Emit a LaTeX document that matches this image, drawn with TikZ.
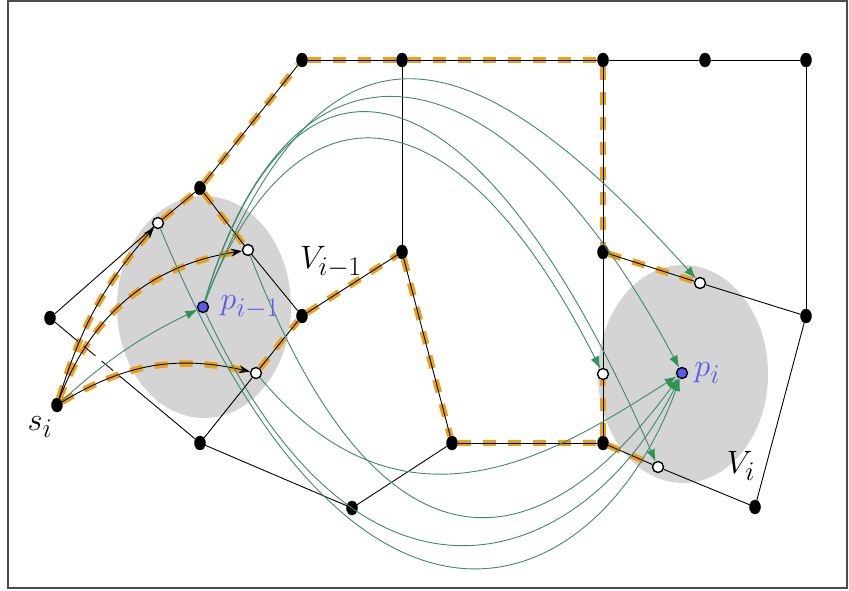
\documentclass[tikz,border=0pt]{standalone}
\usepackage{xcolor}
\usetikzlibrary{arrows.meta,positioning,shapes.geometric}
\definecolor{pathorange}{HTML}{E9A11A}
\definecolor{arcgreen}{HTML}{3F8A6A}
\definecolor{tipgreen}{HTML}{2E9455}
\definecolor{ptblue}{HTML}{5A5AF0}
\definecolor{regiongray}{HTML}{D4D4D4}
\newcommand{\biglab}[1]{\scalebox{1.3}{\Huge$#1$}}

\begin{document}
\begin{tikzpicture}[x=1pt,y=-1pt,
    vtx/.style={draw=black, fill=black, ellipse, inner sep=0pt, minimum width=11pt, minimum height=14pt},
    hole/.style={draw=black, fill=white, circle, line width=1.4pt, inner sep=0pt, minimum size=11pt},
    rep/.style={draw=black, fill=ptblue, circle, line width=1.4pt, inner sep=0pt, minimum size=11pt},
    link/.style={black, line width=0.9pt},
    route/.style={pathorange, line width=6.5pt, dash pattern=on 13pt off 12pt},
    flow/.style={arcgreen, line width=0.9pt, -{Latex[length=12pt,width=9pt,color=tipgreen]}},
    reach/.style={link, -{Stealth[length=11pt,width=8pt]}},
    lab/.style={inner sep=1pt}]
  \useasboundingbox (0,0) rectangle (849,590);
  \draw[black!70, line width=1.4pt] (8,1) rectangle (847,588);

  % regions
  \fill[regiongray] (204,307) ellipse [x radius=87, y radius=111];
  \fill[regiongray] (683,374) ellipse [x radius=85, y radius=109];

  % vertices
  \node[vtx] (si) at (57,405) {};
  \node[vtx] (wl) at (50,318) {};
  \node[vtx] (q1) at (200,188) {};
  \node[vtx] (t1) at (302,60) {};
  \node[vtx] (t2) at (402,60) {};
  \node[vtx] (t3) at (603,60) {};
  \node[vtx] (t4) at (705,60) {};
  \node[vtx] (t5) at (806,60) {};
  \node[vtx] (r1) at (806,316) {};
  \node[vtx] (r2) at (755,507) {};
  \node[vtx] (m1) at (402,252) {};
  \node[vtx] (m2) at (302,316) {};
  \node[vtx] (m3) at (603,252) {};
  \node[vtx] (m4) at (603,443) {};
  \node[vtx] (m5) at (452,443) {};
  \node[vtx] (bl) at (200,443) {};
  \node[vtx] (bm) at (352,508) {};
  \node[hole] (u1) at (158,223) {};
  \node[hole] (u2) at (248,250) {};
  \node[hole] (u3) at (256,373) {};
  \node[hole] (v1) at (700,283) {};
  \node[hole] (v2) at (603,374) {};
  \node[hole] (v3) at (658,467) {};
  \node[rep] (pa) at (203,307) {};
  \node[rep] (pb) at (682,373) {};

  % orange route
  \draw[route] (si) to[bend left=12] (u1);
  \draw[route] (si) to[bend left=30] (u2);
  \draw[route] (si) to[bend left=22] (u3);
  \draw[route] (u1) -- (q1);
  \draw[route] (q1) -- (t1);
  \draw[route] (t1) -- (t2);
  \draw[route] (t2) -- (t3);
  \draw[route] (t3) -- (m3);
  \draw[route] (m3) -- (v1);
  \draw[route] (q1) -- (u2);
  \draw[route] (u3) -- (m2);
  \draw[route] (m2) -- (m1);
  \draw[route] (m1) -- (m5);
  \draw[route] (m5) -- (m4);
  \draw[route] (m4) -- (v2);
  \draw[route] (m4) -- (v3);

  % graph edges
  \draw[link] (wl) -- (u1);
  \draw[link, dash pattern=on 30pt off 8pt on 15pt off 8pt on 15pt off 8pt on 200pt] (wl) -- (bl);
  \draw[link] (u1) -- (q1);
  \draw[link] (q1) -- (t1);
  \draw[link] (t1) -- (t2);
  \draw[link] (t2) -- (t3);
  \draw[link] (t3) -- (t4);
  \draw[link] (t4) -- (t5);
  \draw[link] (t5) -- (r1);
  \draw[link] (r1) -- (v1);
  \draw[link] (v1) -- (m3);
  \draw[link] (m3) -- (t3);
  \draw[link] (m3) -- (v2);
  \draw[link] (v2) -- (m4);
  \draw[link] (m4) -- (v3);
  \draw[link] (v3) -- (r2);
  \draw[link] (r2) -- (r1);
  \draw[link] (m4) -- (m5);
  \draw[link] (m5) -- (m1);
  \draw[link] (m1) -- (t2);
  \draw[link] (m1) -- (m2);
  \draw[link] (m2) -- (u2);
  \draw[link] (u2) -- (q1);
  \draw[link] (m2) -- (u3);
  \draw[link] (u3) -- (bl);
  \draw[link] (bl) -- (bm);
  \draw[link] (bm) -- (m5);

  % paths from s_i
  \draw[reach] (si) to[bend left=12] (u1);
  \draw[reach] (si) to[bend left=30] (u2);
  \draw[reach] (si) to[bend left=22] (u3);
  \draw[flow] (si) to[bend left=8] (pa);

  % arcs over the top
  \draw[flow] (pa) .. controls (330,-20) and (480,40) .. (v1);
  \draw[flow] (pa) .. controls (290,10) and (500,30) .. (pb);
  \draw[flow] (pa) .. controls (290,20) and (470,37) .. (v3);
  \draw[flow] (pa) .. controls (290,80) and (449,69) .. (v2);

  % arcs underneath
  \draw[flow] (u1) .. controls (360,710) and (600,600) .. (pb);
  \draw[flow] (pa) .. controls (368,661) and (590,560) .. (pb);
  \draw[flow] (u2) .. controls (380,590) and (537,570) .. (pb);
  \draw[flow] (u3) .. controls (407,552) and (560,450) .. (pb);

  % labels
  \node[lab] (silab) at (40,427) {\biglab{s_i}};
  \node[lab] (valab) at (331,262) {\biglab{V_{i-1}}};
  \node[lab] (vblab) at (741,466) {\biglab{V_i}};
  \node[lab, text=ptblue, right=10pt of pa] (palab) {\biglab{p_{i-1}}};
  \node[lab, text=ptblue, right=5pt of pb] (pblab) {\biglab{p_i}};
\end{tikzpicture}
\end{document}
